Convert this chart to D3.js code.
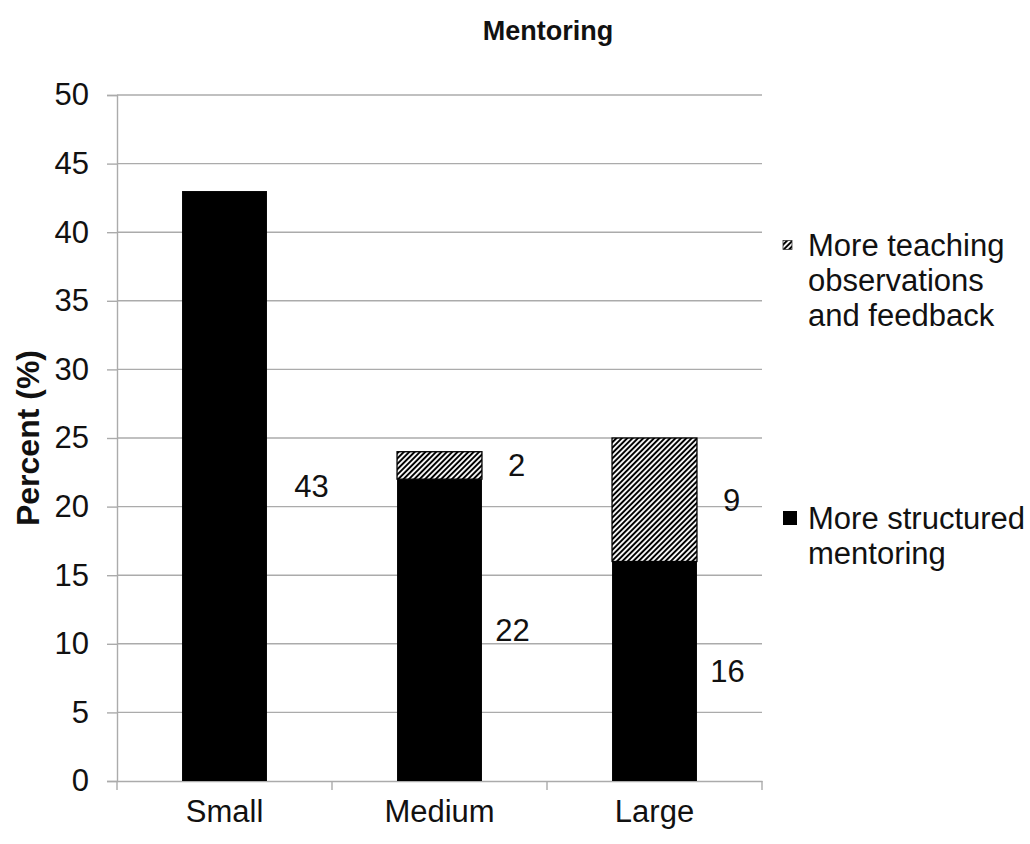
<!DOCTYPE html>
<html>
<head>
<meta charset="utf-8">
<script src="https://cdn.jsdelivr.net/npm/d3@7/dist/d3.min.js"></script>
<style>
  html, body { margin: 0; padding: 0; background: #fff; }
  svg { display: block; font-family: "Liberation Sans", Arial, sans-serif; }
</style>
</head>
<body>
<svg id="chart" width="1030" height="844"></svg>
<script>
// Data
const categories = ["Small", "Medium", "Large"];
const structuredMentoring = [43, 22, 16];
const teachingObservations = [0, 2, 9];
const yTicks = [0, 5, 10, 15, 20, 25, 30, 35, 40, 45, 50];
const seriesNames = ["More structured mentoring", "More teaching observations and feedback"];

const svg = d3.select("#chart");
const plot = { left: 117, right: 762, top: 95, bottom: 781 };
const FONT = "Liberation Sans, Arial, sans-serif";
const FS = 31;
const GRID = "#ababab";

// Diagonal hatch for the second series
const defs = svg.append("defs");
const pat = defs.append("pattern")
  .attr("id", "hatch")
  .attr("patternUnits", "userSpaceOnUse")
  .attr("width", 3.8).attr("height", 3.8)
  .attr("patternTransform", "rotate(45)");
pat.append("rect").attr("width", 3.8).attr("height", 3.8).attr("fill", "#f4f4f4");
pat.append("rect").attr("x", 0).attr("width", 1.9).attr("height", 3.8).attr("fill", "#000");

const x = d3.scaleBand().domain(categories).range([plot.left, plot.right]).padding(0);
const y = d3.scaleLinear().domain([0, 50]).range([plot.bottom, plot.top]);
const barW = x.bandwidth() * 0.395;

// Gridlines
svg.append("g").selectAll("line").data(yTicks.filter(d => d > 0)).join("line")
  .attr("x1", plot.left).attr("x2", plot.right)
  .attr("y1", d => y(d)).attr("y2", d => y(d))
  .attr("stroke", GRID).attr("stroke-width", 1.4);

// Y axis
const yAxis = svg.append("g").attr("transform", `translate(${plot.left},0)`)
  .call(d3.axisLeft(y).tickValues(yTicks).tickSize(10).tickPadding(18));
yAxis.select(".domain").attr("stroke", GRID).attr("stroke-width", 1.4);
yAxis.selectAll(".tick line").attr("stroke", GRID).attr("stroke-width", 1.4);
yAxis.selectAll(".tick text").attr("font-size", FS).attr("fill", "#111").attr("font-family", FONT);

// X axis
const xAxis = svg.append("g").attr("transform", `translate(0,${plot.bottom})`)
  .call(d3.axisBottom(x).tickSize(0).tickPadding(19));
xAxis.select(".domain").attr("stroke", GRID).attr("stroke-width", 1.4);
xAxis.selectAll(".tick text").attr("font-size", FS).attr("fill", "#111").attr("font-family", FONT);
// Separator ticks between categories
const sepX = [plot.left].concat(categories.map(c => x(c) + x.bandwidth()));
svg.append("g").selectAll("line").data(sepX).join("line")
  .attr("x1", d => d).attr("x2", d => d)
  .attr("y1", plot.bottom).attr("y2", plot.bottom + 9)
  .attr("stroke", GRID).attr("stroke-width", 1.4);

// Stacked bars
const bars = svg.append("g");
categories.forEach((c, i) => {
  const cx = x(c) + x.bandwidth() / 2;
  const base = structuredMentoring[i];
  bars.append("rect")
    .attr("x", cx - barW / 2).attr("width", barW)
    .attr("y", y(base)).attr("height", y(0) - y(base))
    .attr("fill", "#000");
  if (teachingObservations[i] > 0) {
    const top = base + teachingObservations[i];
    bars.append("rect")
      .attr("x", cx - barW / 2).attr("width", barW)
      .attr("y", y(top)).attr("height", y(base) - y(top))
      .attr("fill", "url(#hatch)")
      .attr("stroke", "#000").attr("stroke-width", 1.3);
  }
});

// Value labels beside each segment at its mid-height
const labels = svg.append("g").attr("font-size", FS).attr("fill", "#111").attr("text-anchor", "middle");
categories.forEach((c, i) => {
  const cx = x(c) + x.bandwidth() / 2;
  const off = i === 0 ? 87 : 73;
  const base = structuredMentoring[i];
  labels.append("text")
    .attr("x", cx + off).attr("y", y(base / 2)).attr("dy", "0.35em")
    .text(base);
  if (teachingObservations[i] > 0) {
    labels.append("text")
      .attr("x", cx + off + 4).attr("y", y(base + teachingObservations[i] / 2)).attr("dy", "0.35em")
      .text(teachingObservations[i]);
  }
});

// Title
svg.append("text").attr("x", 548).attr("y", 40).attr("text-anchor", "middle")
  .attr("font-size", 27).attr("font-weight", "bold").attr("fill", "#111").text("Mentoring");

// Y axis title
svg.append("text")
  .attr("transform", `translate(39,${(plot.top + plot.bottom) / 2}) rotate(-90)`)
  .attr("text-anchor", "middle")
  .attr("font-size", 32).attr("font-weight", "bold").attr("fill", "#111").text("Percent (%)");

// Legend
const legend = svg.append("g").attr("font-size", FS).attr("fill", "#111");
const legendItems = [
  { fill: "url(#hatch)", stroke: "#333", lines: ["More teaching", "observations", "and feedback"], y: 245, sq: 9, tx: 808 },
  { fill: "#000", stroke: "none", lines: ["More structured", "mentoring"], y: 518, sq: 14, tx: 808 }
];
legendItems.forEach(it => {
  legend.append("rect")
    .attr("x", 783).attr("y", it.y - it.sq / 2).attr("width", it.sq).attr("height", it.sq)
    .attr("fill", it.fill).attr("stroke", it.stroke).attr("stroke-width", 0.8);
  it.lines.forEach((t, j) => {
    legend.append("text").attr("x", it.tx).attr("y", it.y + j * 35).attr("dy", "0.35em").text(t);
  });
});
</script>
</body>
</html>
